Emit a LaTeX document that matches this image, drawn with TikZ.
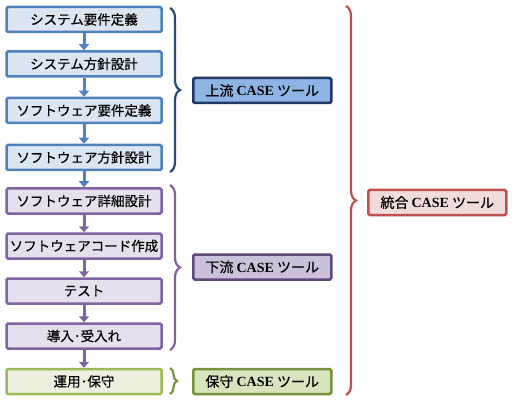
\documentclass[tikz,border=0pt]{standalone}
\usepackage{fontspec}
\setmainfont{Liberation Serif}
\newfontfamily\jpfont[FakeBold=0.4]{Noto Sans CJK JP}
\usetikzlibrary{arrows.meta,decorations.pathreplacing}

\definecolor{upfill}{HTML}{DCE6F2}
\definecolor{upline}{HTML}{4F81BD}
\definecolor{uptag}{HTML}{8DB4E2}
\definecolor{updark}{HTML}{1F3864}
\definecolor{upbrace}{HTML}{254A7D}
\definecolor{lowfill}{HTML}{E5E0EC}
\definecolor{lowline}{HTML}{8064A2}
\definecolor{lowtag}{HTML}{CCC1DA}
\definecolor{lowdark}{HTML}{604A7B}
\definecolor{mntfill}{HTML}{EBF1DE}
\definecolor{mntline}{HTML}{9BBB59}
\definecolor{mnttag}{HTML}{D7E4BD}
\definecolor{mntdark}{HTML}{77933C}
\definecolor{alltag}{HTML}{F2DCDB}
\definecolor{allline}{HTML}{C0504D}

\tikzset{
  phase/.style={draw, line width=2.5pt, rounded corners=1.5pt,
    minimum width=155pt, minimum height=25pt, inner sep=0pt,
    font=\jpfont\fontsize{13.5}{16}\selectfont},
  tag/.style={draw, line width=2.5pt, rounded corners=1.5pt,
    minimum width=138pt, minimum height=25pt, inner sep=0pt, anchor=west,
    font=\jpfont\fontsize{14}{16}\selectfont},
  flow/.style={line width=3pt, -{Triangle[width=10pt,length=6pt]}},
  curly/.style={line width=2.2pt, decorate,
    decoration={brace, amplitude=#1, aspect=0.5}},
  curly/.default=10pt
}
\newcommand{\casetxt}{\ {\rmfamily\bfseries CASE}\ }

\begin{document}
\begin{tikzpicture}[x=1pt,y=-1pt]
  \useasboundingbox (0,0) rectangle (515,404);

  % development phases
  \node[phase, fill=upfill, draw=upline] (sysreq) at (84,19.5) {システム要件定義};
  \node[phase, fill=upfill, draw=upline] (sysdes) at (84,64) {システム方針設計};
  \node[phase, fill=upfill, draw=upline] (swreq) at (84,110.5) {ソフトウェア要件定義};
  \node[phase, fill=upfill, draw=upline] (swdes) at (84,157.5) {ソフトウェア方針設計};
  \node[phase, fill=lowfill, draw=lowline] (swdet) at (84,201) {ソフトウェア詳細設計};
  \node[phase, fill=lowfill, draw=lowline] (swcode) at (84,246) {ソフトウェアコード作成};
  \node[phase, fill=lowfill, draw=lowline] (test) at (84,291) {テスト};
  \node[phase, fill=lowfill, draw=lowline] (accept) at (84,336) {導入･受入れ};
  \node[phase, fill=mntfill, draw=mntline] (oper) at (84,381.5) {運用･保守};

  \draw[flow, upline] (sysreq) -- (sysdes);
  \draw[flow, upline] (sysdes) -- (swreq);
  \draw[flow, upline] (swreq) -- (swdes);
  \draw[flow, upline] (swdes) -- (swdet);
  \draw[flow, lowline] (swdet) -- (swcode);
  \draw[flow, lowline] (swcode) -- (test);
  \draw[flow, lowline] (test) -- (accept);
  \draw[flow, lowline] (accept) -- (oper);

  % braces
  \coordinate (uptop) at (170,8);
  \coordinate (upbot) at (170,172);
  \coordinate (lowtop) at (170,185);
  \coordinate (lowbot) at (170,350);
  \coordinate (mnttop) at (170,368);
  \coordinate (mntbot) at (170,394);
  \coordinate (alltop) at (346,6);
  \coordinate (allbot) at (346,395);

  \draw[curly, upbrace] (uptop) -- (upbot);
  \draw[curly, lowline] (lowtop) -- (lowbot);
  \draw[curly=7pt, mntdark] (mnttop) -- (mntbot);
  \draw[curly, allline] (alltop) -- (allbot);

  % tool labels
  \node[tag, fill=uptag, draw=updark] (upcase) at (192,90.5) {上流\casetxt ツール};
  \node[tag, fill=lowtag, draw=lowdark] (lowcase) at (192,267) {下流\casetxt ツール};
  \node[tag, fill=mnttag, draw=mntdark] (mntcase) at (192,381.5) {保守\casetxt ツール};
  \node[tag, fill=alltag, draw=allline] (allcase) at (367,202.5) {統合\casetxt ツール};
\end{tikzpicture}
\end{document}
